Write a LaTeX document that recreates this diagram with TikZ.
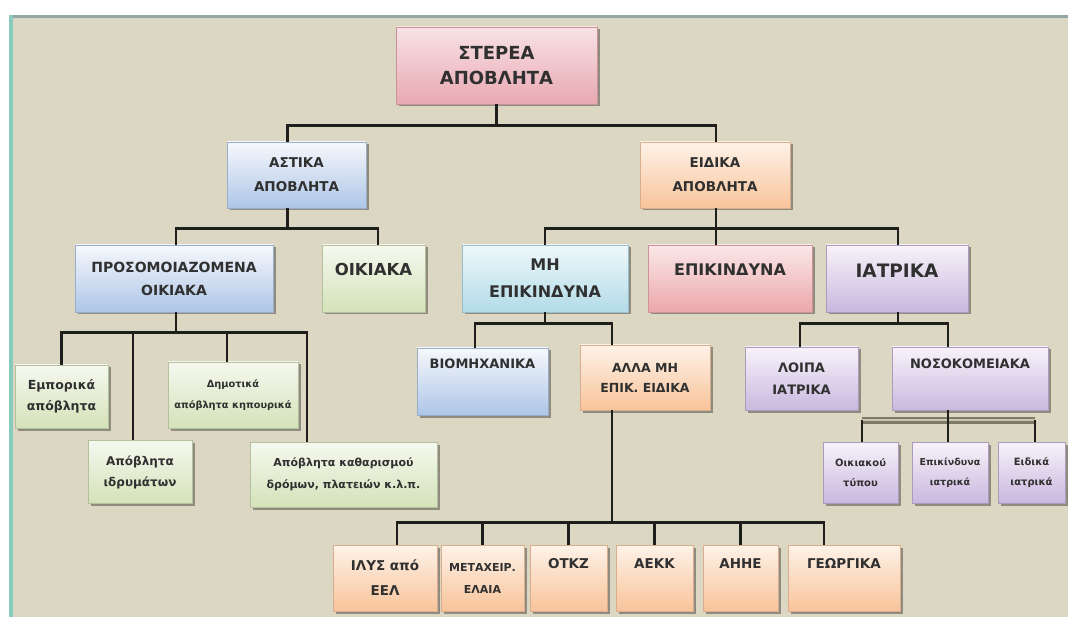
\documentclass[tikz,border=0pt]{standalone}
\usepackage{fontspec}
\setmainfont{DejaVu Sans}
\usetikzlibrary{shadows,calc}

\definecolor{bg}{HTML}{DCD7C2}
\definecolor{txt}{HTML}{303030}
\definecolor{rule}{HTML}{93A6A6}
\definecolor{tealrule}{HTML}{86CBBB}
\definecolor{linecol}{HTML}{1E1E1A}
% box fills: top / bottom / edge
\definecolor{pinkT}{HTML}{F8E3E6}\definecolor{pinkB}{HTML}{E8A8B1}\definecolor{pinkE}{HTML}{C8939A}
\definecolor{blueT}{HTML}{F6F8FC}\definecolor{blueB}{HTML}{AEC6E7}\definecolor{blueE}{HTML}{98ADC8}
\definecolor{peachT}{HTML}{FEF2E8}\definecolor{peachB}{HTML}{F8C49A}\definecolor{peachE}{HTML}{D8AE8E}
\definecolor{greenT}{HTML}{F6F8EF}\definecolor{greenB}{HTML}{D4E2B9}\definecolor{greenE}{HTML}{B3C19C}
\definecolor{cyanT}{HTML}{EFF8FA}\definecolor{cyanB}{HTML}{B2DBE8}\definecolor{cyanE}{HTML}{9ABDCA}
\definecolor{redT}{HTML}{FBE8E8}\definecolor{redB}{HTML}{EBA7AB}\definecolor{redE}{HTML}{CC9498}
\definecolor{purpT}{HTML}{F7F3FA}\definecolor{purpB}{HTML}{C9B8DE}\definecolor{purpE}{HTML}{A99CBC}
\definecolor{medbarD}{HTML}{7D7B66}\definecolor{medbarL}{HTML}{C9C5AE}

\newcommand\fz[2]{\fontsize{#1}{#2}\selectfont\bfseries}

\begin{document}
\begin{tikzpicture}[x=1pt,y=-1pt,
  box/.style={rectangle, draw=#1, line width=0.5pt, align=center, inner sep=1pt,
    text=txt, drop shadow={shadow xshift=2.5pt, shadow yshift=-2.5pt, opacity=0.35, fill=black}},
  pinkbox/.style={box=pinkE, top color=pinkT, bottom color=pinkB},
  bluebox/.style={box=blueE, top color=blueT, bottom color=blueB},
  peachbox/.style={box=peachE, top color=peachT, bottom color=peachB},
  greenbox/.style={box=greenE, top color=greenT, bottom color=greenB},
  cyanbox/.style={box=cyanE, top color=cyanT, bottom color=cyanB},
  redbox/.style={box=redE, top color=redT, bottom color=redB},
  purpbox/.style={box=purpE, top color=purpT, bottom color=purpB},
  conn/.style={line width=2.8pt, draw=linecol},
  medbar/.style={line width=7pt, draw=medbarD},
  medbarin/.style={line width=2pt, draw=medbarL},
]
\useasboundingbox (0,0) rectangle (1068,617);
% page frame
\fill[white] (0,0) rectangle (1068,617);
\fill[bg] (12,17) rectangle (1068,617);
\fill[rule] (12,15) rectangle (1068,18.5);
\fill[tealrule] (9,15) rectangle (13,617);

% ---- top level
\node[pinkbox, minimum width=201pt, minimum height=77pt, font=\fz{18}{25}] (root) at (496.5,65.5) {ΣΤΕΡΕΑ\\ΑΠΟΒΛΗΤΑ};

% ---- first level
\node[bluebox, minimum width=139pt, minimum height=66pt, font=\fz{13.5}{24}] (astika) at (296.5,175) {ΑΣΤΙΚΑ\\ΑΠΟΒΛΗΤΑ};
\node[peachbox, minimum width=150pt, minimum height=66pt, font=\fz{13.5}{24}] (eidika) at (715,175) {ΕΙΔΙΚΑ\\ΑΠΟΒΛΗΤΑ};

% ---- second level
\node[bluebox, minimum width=198pt, minimum height=67pt, font=\fz{14}{23}] (prosom) at (174,278.5) {ΠΡΟΣΟΜΟΙΑΖΟΜΕΝΑ\\ΟΙΚΙΑΚΑ};
\node[greenbox, minimum width=103pt, minimum height=67pt, font=\fz{16.5}{20}, text height=12pt, text depth=18pt] (oikiaka) at (373.5,278.5) {ΟΙΚΙΑΚΑ};
\node[cyanbox, minimum width=166pt, minimum height=67pt, font=\fz{16}{27}] (mhepik) at (545,278.5) {ΜΗ\\ΕΠΙΚΙΝΔΥΝΑ};
\node[redbox, minimum width=164pt, minimum height=67pt, font=\fz{16}{20}, text height=11.5pt, text depth=18pt] (epik) at (730,278.5) {ΕΠΙΚΙΝΔΥΝΑ};
\node[purpbox, minimum width=142pt, minimum height=67pt, font=\fz{18.5}{20}, text height=13.5pt, text depth=16pt] (iatrika) at (897,278.5) {ΙΑΤΡΙΚΑ};

% ---- third level, household-like waste
\node[greenbox, minimum width=93pt, minimum height=63pt, font=\fz{12.5}{21}] (emporika) at (61.5,396.5) {Εμπορικά\\απόβλητα};
\node[greenbox, minimum width=104pt, minimum height=63pt, font=\fz{12}{21}] (idrymata) at (140,472) {Απόβλητα\\ιδρυμάτων};
\node[greenbox, minimum width=130pt, minimum height=66pt, font=\fz{9.8}{21}] (dimotika) at (233,395) {Δημοτικά\\απόβλητα κηπουρικά};
\node[greenbox, minimum width=187pt, minimum height=65pt, font=\fz{11}{22}] (kathar) at (343.5,474.5) {Απόβλητα καθαρισμού\\δρόμων, πλατειών κ.λ.π.};

% ---- third level, special waste
\node[bluebox, minimum width=131pt, minimum height=67pt, font=\fz{13}{20}, text height=9.5pt, text depth=36pt] (viomix) at (482.5,381.5) {ΒΙΟΜΗΧΑΝΙΚΑ};
\node[peachbox, minimum width=130pt, minimum height=65pt, font=\fz{12.5}{20}] (alla) at (645,377.5) {ΑΛΛΑ ΜΗ\\ΕΠΙΚ. ΕΙΔΙΚΑ};
\node[purpbox, minimum width=113pt, minimum height=63pt, font=\fz{13}{22}] (loipa) at (801.5,378.5) {ΛΟΙΠΑ\\ΙΑΤΡΙΚΑ};
\node[purpbox, minimum width=156pt, minimum height=63pt, font=\fz{13}{20}, text height=9.5pt, text depth=30pt] (nosok) at (970,378.5) {ΝΟΣΟΚΟΜΕΙΑΚΑ};

% ---- hospital waste
\node[purpbox, minimum width=75pt, minimum height=61pt, font=\fz{10}{20}] (oikiakou) at (860.5,472.5) {Οικιακού\\τύπου};
\node[purpbox, minimum width=76pt, minimum height=61pt, font=\fz{9.5}{20}] (epikiatr) at (950,472.5) {Επικίνδυνα\\ιατρικά};
\node[purpbox, minimum width=67pt, minimum height=61pt, font=\fz{10}{20}] (eidiatr) at (1031.5,472.5) {Ειδικά\\ιατρικά};

% ---- other non-hazardous special waste
\node[peachbox, minimum width=104pt, minimum height=66pt, font=\fz{13.5}{25}] (ilys) at (385,578) {ΙΛΥΣ από\\ΕΕΛ};
\node[peachbox, minimum width=83pt, minimum height=66pt, font=\fz{11}{22}] (elaia) at (482.5,578) {ΜΕΤΑΧΕΙΡ.\\ΕΛΑΙΑ};
\node[peachbox, minimum width=77pt, minimum height=66pt, font=\fz{13.5}{20}, text height=10pt, text depth=30pt] (otkz) at (568.5,578) {ΟΤΚΖ};
\node[peachbox, minimum width=77pt, minimum height=66pt, font=\fz{13.5}{20}, text height=10pt, text depth=30pt] (aekk) at (654.5,578) {ΑΕΚΚ};
\node[peachbox, minimum width=75pt, minimum height=66pt, font=\fz{13.5}{20}, text height=10pt, text depth=30pt] (aiie) at (740.5,578) {ΑΗΗΕ};
\node[peachbox, minimum width=112pt, minimum height=66pt, font=\fz{13.5}{20}, text height=10pt, text depth=30pt] (georg) at (844,578) {ΓΕΩΡΓΙΚΑ};

% ---- connectors
\coordinate (rb) at ($(root.south)+(0,21)$);
\draw[conn] (root.south) -- (rb);
\draw[conn] ([xshift=-9pt]astika.north) |- (rb) -| ([xshift=1pt]eidika.north);

\coordinate (ab) at ($(astika.south)+(-9,20)$);
\draw[conn] ([xshift=-9pt]astika.south) -- (ab);
\draw[conn] ([xshift=2pt]prosom.north) |- (ab) -| ([xshift=4.5pt]oikiaka.north);

\coordinate (eb) at ($(eidika.south)+(1,20)$);
\draw[conn] ([xshift=1pt]eidika.south) -- ([xshift=1pt]eidika.south |- epik.north);
\draw[conn] (mhepik.north) |- (eb) -| ([xshift=1pt]iatrika.north);

\coordinate (pb) at ($(prosom.south)+(2,20)$);
\draw[conn] ([xshift=2pt]prosom.south) -- (pb);
\draw[conn] (emporika.north) |- (pb) -| ([xshift=-36.5pt]kathar.north);
\draw[conn] ([xshift=-7pt]idrymata.north) -- ([xshift=-7pt]idrymata.north |- pb);
\draw[conn] ([xshift=-6pt]dimotika.north) -- ([xshift=-6pt]dimotika.north |- pb);

\coordinate (mb) at ($(mhepik.south)+(0,11)$);
\draw[conn] (mhepik.south) -- (mb);
\draw[conn] ([xshift=-7.5pt]viomix.north) |- (mb) -| ([xshift=-33pt]alla.north);

\coordinate (ib) at ($(iatrika.south)+(1,11)$);
\draw[conn] ([xshift=1pt]iatrika.south) -- (ib);
\draw[conn] ([xshift=-1.5pt]loipa.north) |- (ib) -| ([xshift=-22pt]nosok.north);

\coordinate (nb) at ($(nosok.south)+(-22,10)$);
\draw[medbar] ([xshift=1.5pt]oikiakou.north |- nb) -- ([xshift=3.5pt]eidiatr.north |- nb);
\draw[medbarin] ([xshift=1.5pt]oikiakou.north |- nb) -- ([xshift=3.5pt]eidiatr.north |- nb);
\draw[conn] ([xshift=-22pt]nosok.south) -- (nb);
\foreach \n/\dx in {oikiakou/1.5, epikiatr/-2, eidiatr/3.5}
  \draw[conn, line width=2.4pt] ([xshift=\dx pt]\n.north) -- ([xshift=\dx pt]\n.north |- nb);

\coordinate (lb) at ($(alla.south)+(-33,112)$);
\draw[conn] ([xshift=-33pt]alla.south) -- (lb);
\draw[conn] ([xshift=12pt]ilys.north) |- (lb) -| ([xshift=-20pt]georg.north);
\foreach \n in {elaia, otkz, aekk, aiie}
  \draw[conn] (\n.north) -- (\n.north |- lb);
\end{tikzpicture}
\end{document}
